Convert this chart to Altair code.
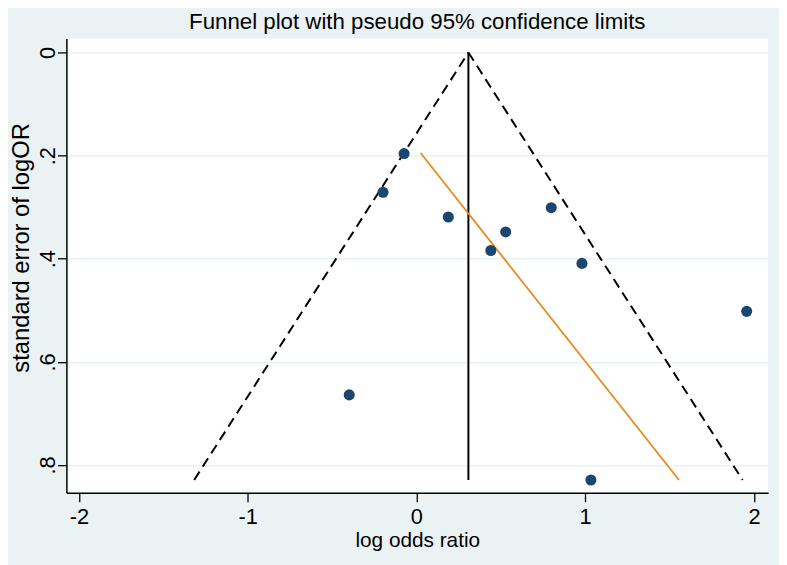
import altair as alt
import pandas as pd

# Study estimates
log_or = [-0.073, -0.198, 0.189, 0.529, 0.441, 0.799, 0.981, 1.957, -0.398, 1.034]
se_log_or = [0.196, 0.271, 0.319, 0.348, 0.384, 0.301, 0.409, 0.502, 0.664, 0.829]

# Pooled (fixed effect) estimate and the extent of the funnel
pooled = [0.308]
se_range = [0.0, 0.829]

# Regression (orange) line end points
reg_x = [0.025, 1.556]
reg_se = [0.195, 0.829]

y_ticks = [0, 0.2, 0.4, 0.6, 0.8]
x_ticks = [-2, -1, 0, 1, 2]

FONT = "Liberation Sans"

pts = pd.DataFrame({"x": log_or, "se": se_log_or})

funnel_rows = []
for side, sgn in (("left", -1), ("right", 1)):
    for s in se_range:
        funnel_rows.append({"side": side, "x": pooled[0] + sgn * 1.96 * s, "se": s})
funnel = pd.DataFrame(funnel_rows)

vline = pd.DataFrame({"x": [pooled[0]] * 2, "se": se_range})
reg = pd.DataFrame({"x": reg_x, "se": reg_se})

xscale = alt.Scale(domain=[-2.074, 2.084], nice=False, zero=False)
yscale = alt.Scale(domain=[-0.027, 0.854], nice=False, zero=False, reverse=True)

xenc = alt.X("x:Q", scale=xscale, title="log odds ratio",
             axis=alt.Axis(values=x_ticks, grid=False,
                           labelExpr="datum.value < 0 ? '-' + format(-datum.value, 'd') : format(datum.value, 'd')"))
yenc = alt.Y("se:Q", scale=yscale, title="standard error of logOR",
             axis=alt.Axis(values=y_ticks, grid=True, labelAngle=270,
                           labelAlign="center", labelBaseline="alphabetic",
                           titleAngle=270, titleAlign="center", titleBaseline="middle",
                           titleX=-45, titleY=211,
                           labelExpr="datum.value == 0 ? '0' : replace(format(datum.value, '.1f'), '0.', '.')"))

funnel_layer = alt.Chart(funnel).mark_line(
    color="black", strokeWidth=2, strokeDash=[10, 6]
).encode(x=xenc, y=yenc, detail="side:N")

vline_layer = alt.Chart(vline).mark_line(color="black", strokeWidth=2).encode(x=xenc, y=yenc)

reg_layer = alt.Chart(reg).mark_line(color="#e8891e", strokeWidth=1.8).encode(x=xenc, y=yenc)

pt_layer = alt.Chart(pts).mark_circle(size=125, color="#1a476f", opacity=1).encode(x=xenc, y=yenc)

chart = alt.layer(funnel_layer, vline_layer, reg_layer, pt_layer).properties(
    width=709,
    height=459,
    title=alt.Title("Funnel plot with pseudo 95% confidence limits",
                    font=FONT, fontSize=22.5, fontWeight="normal", color="black",
                    anchor="middle", offset=5),
    autosize=alt.AutoSizeParams(type="none"),
    padding={"left": 59, "top": 28, "right": 11, "bottom": 70},
    background="#eaf2f3",
).configure_view(
    fill="white", stroke=None
).configure_axis(
    labelFont=FONT, titleFont=FONT, labelFontSize=22, titleFontSize=21,
    labelColor="black", titleColor="black", titleFontWeight="normal",
    domainColor="black", domainWidth=1.5, tickColor="black", tickWidth=1.3,
    tickSize=9, gridColor="#eaf2f3", gridWidth=1.5,
).configure_axisX(
    labelPadding=5, titlePadding=2,
).configure_axisY(
    labelPadding=3, titleFontSize=24,
)

chart.save("out.html", embed_options={"renderer": "svg", "actions": False})
